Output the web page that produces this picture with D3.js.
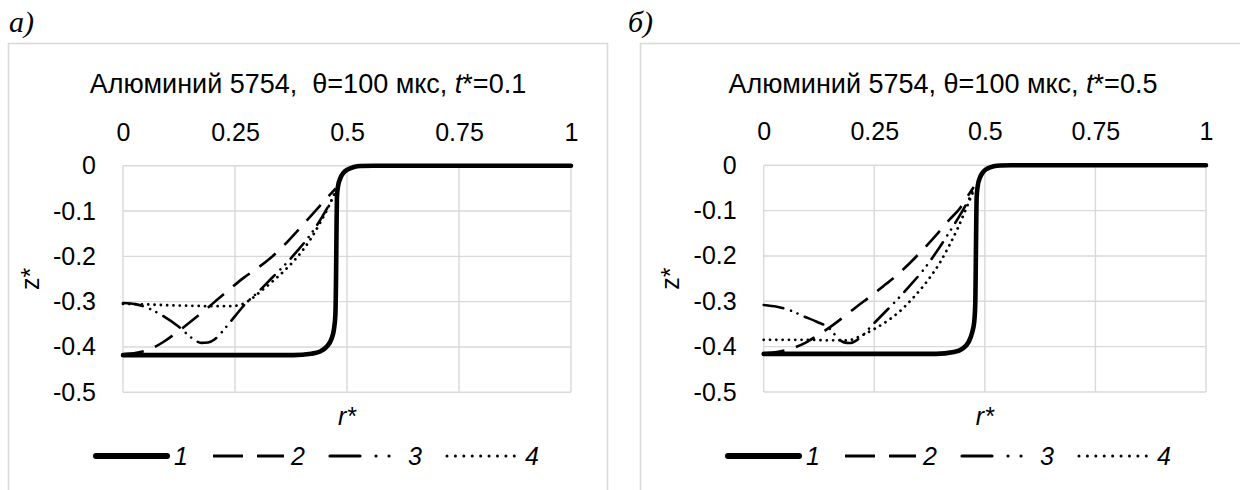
<!DOCTYPE html>
<html>
<head>
<meta charset="utf-8">
<script src="https://cdn.jsdelivr.net/npm/d3@7"></script>
<style>
  html, body { margin: 0; padding: 0; background: #fff; }
  svg { display: block; }
  text { font-family: "Liberation Sans", Arial, sans-serif; fill: #000; }
</style>
</head>
<body>
<svg id="chart" width="1240" height="490"></svg>
<script>
// Axis ticks
const rTicks = [0, 0.25, 0.5, 0.75, 1];
const zTicks = [0, -0.1, -0.2, -0.3, -0.4, -0.5];

// Series names
const seriesNames = ["1", "2", "3", "4"];

// Panel а (t* = 0.1): radial coordinate r* and surface position z*
const a1r = [0, 0.2, 0.38, 0.42, 0.44, 0.455, 0.465, 0.471, 0.474, 0.4755, 0.4765, 0.4775, 0.480, 0.485, 0.492, 0.502, 0.515, 0.53, 0.56, 1];
const a1z = [-0.418, -0.418, -0.418, -0.415, -0.41, -0.399, -0.383, -0.36, -0.33, -0.25, -0.15, -0.07, -0.045, -0.028, -0.016, -0.008, -0.003, -0.0005, 0, 0];
const a2r = [0, 0.03, 0.06, 0.09, 0.12, 0.15, 0.18, 0.21, 0.24, 0.27, 0.30, 0.33, 0.36, 0.39, 0.42, 0.44, 0.46, 0.475];
const a2z = [-0.416, -0.413, -0.405, -0.389, -0.368, -0.345, -0.321, -0.296, -0.271, -0.247, -0.226, -0.203, -0.175, -0.143, -0.110, -0.088, -0.066, -0.050];
const a3r = [0, 0.03, 0.06, 0.09, 0.12, 0.145, 0.16, 0.175, 0.19, 0.205, 0.22, 0.235, 0.25, 0.27, 0.30, 0.33, 0.36, 0.39, 0.42, 0.44, 0.46, 0.475];
const a3z = [-0.303, -0.306, -0.316, -0.332, -0.352, -0.373, -0.385, -0.391, -0.390, -0.383, -0.368, -0.350, -0.332, -0.308, -0.280, -0.250, -0.220, -0.187, -0.150, -0.120, -0.086, -0.058];
const a4r = [0, 0.05, 0.10, 0.15, 0.20, 0.24, 0.265, 0.285, 0.31, 0.34, 0.37, 0.40, 0.42, 0.44, 0.46, 0.475];
const a4z = [-0.305, -0.306, -0.308, -0.309, -0.310, -0.310, -0.306, -0.295, -0.275, -0.250, -0.222, -0.188, -0.160, -0.126, -0.088, -0.055];

// Panel б (t* = 0.5)
const b1r = [0, 0.2, 0.39, 0.43, 0.45, 0.463, 0.471, 0.476, 0.4785, 0.4795, 0.4805, 0.4815, 0.484, 0.489, 0.496, 0.506, 0.52, 0.535, 0.56, 1];
const b1z = [-0.416, -0.416, -0.416, -0.412, -0.404, -0.39, -0.37, -0.345, -0.30, -0.22, -0.13, -0.07, -0.045, -0.027, -0.015, -0.007, -0.002, -0.0003, 0, 0];
const b2r = [0, 0.03, 0.06, 0.095, 0.12, 0.15, 0.18, 0.21, 0.24, 0.27, 0.30, 0.33, 0.36, 0.39, 0.42, 0.445, 0.46, 0.475];
const b2z = [-0.415, -0.412, -0.405, -0.391, -0.376, -0.357, -0.335, -0.312, -0.290, -0.267, -0.243, -0.216, -0.186, -0.154, -0.120, -0.093, -0.070, -0.048];
const b3r = [0, 0.03, 0.06, 0.09, 0.12, 0.15, 0.165, 0.18, 0.195, 0.21, 0.225, 0.24, 0.27, 0.30, 0.33, 0.36, 0.39, 0.42, 0.44, 0.46, 0.475];
const b3z = [-0.308, -0.312, -0.320, -0.333, -0.345, -0.361, -0.378, -0.390, -0.392, -0.386, -0.374, -0.358, -0.328, -0.298, -0.266, -0.232, -0.192, -0.147, -0.116, -0.082, -0.052];
const b4r = [0, 0.05, 0.10, 0.15, 0.19, 0.22, 0.25, 0.28, 0.31, 0.34, 0.37, 0.40, 0.42, 0.44, 0.46, 0.475];
const b4z = [-0.385, -0.385, -0.385, -0.386, -0.386, -0.376, -0.361, -0.343, -0.320, -0.290, -0.255, -0.212, -0.176, -0.136, -0.090, -0.055];

const panelA = [[a1r, a1z], [a2r, a2z], [a3r, a3z], [a4r, a4z]];
const panelB = [[b1r, b1z], [b2r, b2z], [b3r, b3z], [b4r, b4z]];

// Line styles for series 1..4: solid thick, long dash, dash-dot-dot, dotted
const styles = [
  { width: 4.6, dash: null, cap: "round" },
  { width: 2.6, dash: "21 12", cap: "butt" },
  { width: 2.6, dash: "20 8 0.01 7 0.01 8", cap: "round" },
  { width: 2.8, dash: "0.01 6.3", cap: "round" }
];
const legendStyles = [
  { width: 6, dash: null, cap: "round" },
  { width: 3.2, dash: "30 14", cap: "butt" },
  { width: 3.2, dash: "30 16 0.01 13 0.01 40", cap: "round" },
  { width: 3, dash: "0.01 8.4", cap: "round" }
];

const svg = d3.select("#chart");
const gridColor = "#d9d9d9";
const fontSize = "25px";

function drawPanel(cfg) {
  const g = svg.append("g");

  // chart area frame
  g.append("rect")
    .attr("x", cfg.box[0]).attr("y", cfg.box[1])
    .attr("width", cfg.box[2]).attr("height", cfg.box[3])
    .attr("fill", "#fff").attr("stroke", gridColor).attr("stroke-width", 1.6);

  // panel letter
  g.append("text")
    .attr("x", cfg.letterX).attr("y", 32)
    .style("font-family", "'Liberation Serif', 'Times New Roman', serif")
    .style("font-style", "italic").style("font-size", "30px")
    .text(cfg.letter);

  const x = d3.scaleLinear().domain([0, 1]).range([cfg.x0, cfg.x1]);
  const y = d3.scaleLinear().domain([0, -0.5]).range([cfg.y0, cfg.y1]);

  // gridlines
  g.append("g").selectAll("line").data(rTicks).join("line")
    .attr("x1", d => x(d)).attr("x2", d => x(d))
    .attr("y1", y(0)).attr("y2", y(-0.5))
    .attr("stroke", gridColor).attr("stroke-width", 1.4);
  g.append("g").selectAll("line").data(zTicks).join("line")
    .attr("x1", x(0)).attr("x2", x(1))
    .attr("y1", d => y(d)).attr("y2", d => y(d))
    .attr("stroke", gridColor).attr("stroke-width", 1.4);

  // top r* axis labels
  const xAxis = d3.axisTop(x).tickValues(rTicks).tickSize(0).tickPadding(25)
    .tickFormat(d => String(d));
  const gx = g.append("g").attr("transform", `translate(0,${cfg.y0})`).call(xAxis);
  gx.select(".domain").remove();
  gx.selectAll("text").style("font-size", fontSize).attr("fill", "#000");

  // left z* axis labels
  const yAxis = d3.axisLeft(y).tickValues(zTicks).tickSize(0).tickPadding(27)
    .tickFormat(d => d === 0 ? "0" : d3.format(".1f")(d).replace("−", "-"));
  const gy = g.append("g").attr("transform", `translate(${cfg.x0},0)`).call(yAxis);
  gy.select(".domain").remove();
  gy.selectAll("text").style("font-size", fontSize).attr("fill", "#000");

  // title
  const t = g.append("text")
    .attr("x", cfg.titleX).attr("y", 93)
    .attr("text-anchor", "middle")
    .style("font-size", "27px")
    .attr("xml:space", "preserve")
    .style("white-space", "pre");
  t.append("tspan").text(cfg.titleMain);
  t.append("tspan").style("font-style", "italic").text("t");
  t.append("tspan").text(cfg.titleEnd);

  // axis titles
  g.append("text")
    .attr("transform", `translate(${cfg.zLabelX},${(cfg.y0 + cfg.y1) / 2}) rotate(-90)`)
    .attr("text-anchor", "middle").attr("dy", "0.35em")
    .style("font-size", fontSize)
    .text("z*");
  g.append("text")
    .attr("x", x(0.5)).attr("y", 425)
    .attr("text-anchor", "middle")
    .style("font-size", fontSize).style("font-style", "italic")
    .text("r*");

  // series
  const line = d3.line().curve(d3.curveMonotoneX)
    .x(d => x(d[0])).y(d => y(d[1]));
  [3, 2, 1, 0].forEach(i => {
    const [rs, zs] = cfg.series[i];
    const pts = rs.map((r, k) => [r, zs[k]]);
    const s = styles[i];
    g.append("path")
      .datum(pts)
      .attr("d", line)
      .attr("fill", "none")
      .attr("stroke", "#000")
      .attr("stroke-width", s.width)
      .attr("stroke-linecap", s.cap)
      .attr("stroke-linejoin", "round")
      .attr("stroke-dasharray", s.dash);
  });

  // legend
  const lg = g.append("g").attr("transform", "translate(0,456)");
  seriesNames.forEach((name, i) => {
    const sx = cfg.legendX + i * 117;
    const s = legendStyles[i];
    lg.append("line")
      .attr("x1", sx).attr("x2", sx + 71)
      .attr("y1", 0).attr("y2", 0)
      .attr("stroke", "#000")
      .attr("stroke-width", s.width)
      .attr("stroke-linecap", s.cap)
      .attr("stroke-dasharray", s.dash);
    lg.append("text")
      .attr("x", sx + 78).attr("y", 0).attr("dy", "0.36em")
      .style("font-size", fontSize).style("font-style", "italic")
      .text(name);
  });
}

drawPanel({
  box: [8.5, 43.5, 599, 470],
  letter: "а)", letterX: 9,
  x0: 123, x1: 571, y0: 165.7, y1: 392.3,
  titleX: 308,
  titleMain: "Алюминий 5754,  θ=100 мкс, ",
  titleEnd: "*=0.1",
  zLabelX: 30,
  legendX: 96,
  series: panelA
});

drawPanel({
  box: [640.5, 43.5, 620, 470],
  letter: "б)", letterX: 628,
  x0: 763.7, x1: 1206, y0: 165.3, y1: 392,
  titleX: 943,
  titleMain: "Алюминий 5754, θ=100 мкс, ",
  titleEnd: "*=0.5",
  zLabelX: 670,
  legendX: 728,
  series: panelB
});
</script>
</body>
</html>
